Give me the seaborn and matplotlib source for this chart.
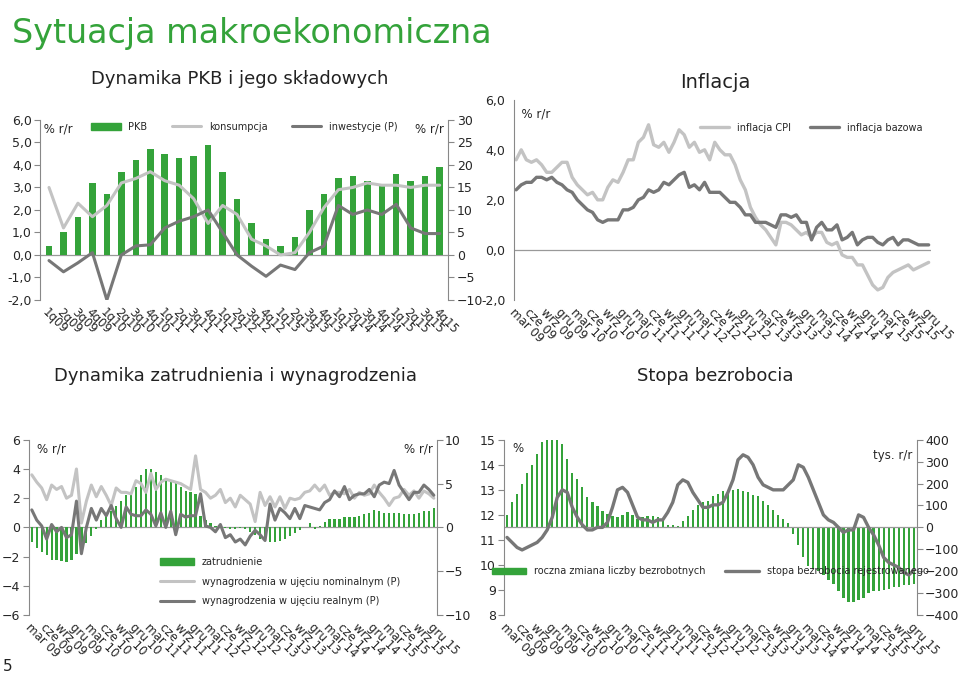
import numpy as np
import pandas as pd
import matplotlib
matplotlib.use("Agg")
import matplotlib.pyplot as plt
import seaborn as sns
from matplotlib.lines import Line2D
from matplotlib.patches import Patch

plt.rcParams["font.family"] = "Lato"
sns.set_style("white")

GREEN = "#34a33a"
LIGHT = "#c3c3c3"
DARK = "#777777"

# ---------- dane: PKB kwartalnie ----------
quarters = [f"{q}q{y:02d}" for y in range(9, 16) for q in range(1, 5)]
pkb = [0.4, 1.0, 1.7, 3.2, 2.7, 3.7, 4.2, 4.7, 4.5, 4.3, 4.4, 4.9, 3.7, 2.5,
       1.4, 0.7, 0.4, 0.8, 2.0, 2.7, 3.4, 3.5, 3.3, 3.1, 3.6, 3.3, 3.5, 3.9]
konsumpcja = [3.0, 1.2, 2.3, 1.7, 2.2, 3.2, 3.4, 3.7, 3.3, 3.1, 2.5, 1.4, 2.2, 1.8,
              0.7, 0.4, 0.0, 0.1, 1.0, 2.1, 2.9, 3.0, 3.2, 3.1, 3.1, 3.0, 3.1, 3.1]
inwestycje = [-1.25, -3.75, -1.75, 0.5, -10, 0, 2, 2.25, 6, 7.5, 8.5, 10, 5, 0,
              -2.5, -4.75, -2.25, -3.25, 0.5, 2, 11, 9, 10, 9, 11.25, 6, 4.75, 4.75]

# ---------- dane miesięczne mar 09 - gru 15 ----------
month_names = ["sty", "lut", "mar", "kwi", "maj", "cze", "lip", "sie", "wrz", "paź", "lis", "gru"]
months = [f"{month_names[m]} {y:02d}" for y in range(9, 16) for m in range(12)][2:]
tick_labels = [m if m.split()[0] in ("mar", "cze", "wrz", "gru") else "" for m in months]

cpi = [3.6, 4.0, 3.6, 3.5, 3.6, 3.4, 3.1, 3.1, 3.3, 3.5,
       3.5, 2.9, 2.6, 2.4, 2.2, 2.3, 2.0, 2.0, 2.5, 2.8, 2.7, 3.1,
       3.6, 3.6, 4.3, 4.5, 5.0, 4.2, 4.1, 4.3, 3.9, 4.3, 4.8, 4.6,
       4.1, 4.3, 3.9, 4.0, 3.6, 4.3, 4.0, 3.8, 3.8, 3.4, 2.8, 2.4,
       1.7, 1.3, 1.0, 0.8, 0.5, 0.2, 1.1, 1.1, 1.0, 0.8, 0.6, 0.7,
       0.5, 0.7, 0.7, 0.3, 0.2, 0.3, -0.2, -0.3, -0.3, -0.6, -0.6, -1.0,
       -1.4, -1.6, -1.5, -1.1, -0.9, -0.8, -0.7, -0.6, -0.8, -0.7, -0.6, -0.5]
bazowa = [2.4, 2.6, 2.7, 2.7, 2.9, 2.9, 2.8, 2.9, 2.7, 2.6,
          2.4, 2.3, 2.0, 1.8, 1.6, 1.5, 1.2, 1.1, 1.2, 1.2, 1.2, 1.6,
          1.6, 1.7, 2.0, 2.1, 2.4, 2.3, 2.4, 2.7, 2.6, 2.8, 3.0, 3.1,
          2.5, 2.6, 2.4, 2.7, 2.3, 2.3, 2.3, 2.1, 1.9, 1.9, 1.7, 1.4,
          1.4, 1.1, 1.1, 1.1, 1.0, 0.9, 1.4, 1.4, 1.3, 1.4, 1.1, 1.1,
          0.4, 0.9, 1.1, 0.8, 0.8, 1.0, 0.4, 0.5, 0.7, 0.2, 0.4, 0.5,
          0.5, 0.3, 0.2, 0.4, 0.5, 0.2, 0.4, 0.4, 0.3, 0.2, 0.2, 0.2]

zatrudnienie = [-1.0, -1.4, -1.7, -1.9, -2.2, -2.2, -2.3, -2.4, -2.2, -1.8,
                -1.5, -1.1, -0.6, -0.1, 0.5, 0.8, 1.1, 1.5, 1.8, 2.2, 2.4, 2.8,
                3.6, 4.0, 4.0, 3.8, 3.6, 3.4, 3.2, 3.1, 2.8, 2.5, 2.4, 2.3,
                0.8, 0.5, 0.3, 0.1, 0.0, -0.05, -0.1, -0.1, -0.05, -0.1, -0.3, -0.5,
                -0.8, -0.9, -1.0, -1.0, -0.9, -0.8, -0.6, -0.4, -0.2, 0.0, 0.3, -0.1,
                0.1, 0.4, 0.6, 0.6, 0.6, 0.7, 0.7, 0.7, 0.8, 0.9, 1.0, 1.2,
                1.1, 1.0, 1.0, 1.0, 1.0, 0.9, 0.9, 0.9, 1.0, 1.1, 1.1, 1.3]
wyn_nominalne = [3.6, 3.1, 2.7, 1.9, 2.9, 2.6, 2.8, 2.0, 2.2, 4.0,
                 0.3, 1.8, 2.9, 2.1, 2.8, 2.2, 1.5, 2.7, 2.4, 2.4, 2.3, 3.2,
                 3.0, 2.4, 3.7, 2.6, 3.1, 3.3, 3.2, 3.1, 3.0, 2.8, 2.6, 4.9,
                 2.6, 2.4, 2.0, 2.2, 2.6, 1.7, 2.0, 1.4, 2.2, 1.9, 1.6, 0.4,
                 2.4, 1.5, 2.1, 1.4, 2.1, 1.3, 2.0, 1.9, 2.0, 2.4, 2.5, 2.9,
                 2.5, 2.9, 2.2, 2.4, 2.4, 2.3, 2.6, 2.0, 2.4, 2.2, 2.3, 2.9,
                 2.4, 2.0, 1.5, 2.0, 2.1, 2.6, 2.2, 2.5, 2.0, 2.5, 2.3, 2.0]
wyn_realne = [1.2, 0.5, 0.1, -0.8, 0.2, -0.3, 0.0, -0.7, -0.5, 1.8,
              -1.8, 0.0, 1.3, 0.5, 1.3, 0.8, 1.5, 0.6, 0.0, 1.4, 0.9, 0.8,
              0.8, 1.2, 0.9, 0.1, 1.0, 0.0, 1.1, -0.5, 0.9, 0.7, 0.8, 0.8,
              2.3, 0.1, 0.0, -0.3, 0.2, -0.7, -0.5, -1.0, -0.8, -1.2, -0.6, -0.2,
              -0.5, -0.9, 1.6, 0.5, 1.3, 1.0, 0.6, 1.3, 0.6, 1.5, 1.4, 1.3,
              1.2, 1.7, 1.9, 2.5, 2.1, 2.8, 1.9, 2.2, 2.3, 2.3, 2.6, 2.1,
              2.9, 3.1, 3.0, 3.9, 2.9, 2.4, 1.9, 2.4, 2.4, 2.9, 2.6, 2.2]
# the wage lines are read against the left scale (-6..6)

stopa_bezrobocia = [11.1, 10.9, 10.7, 10.6, 10.7, 10.8, 10.9, 11.1, 11.4, 11.9,
                    12.7, 13.0, 12.9, 12.3, 11.9, 11.6, 11.4, 11.4, 11.5, 11.5, 11.7, 12.3,
                    13.0, 13.1, 12.9, 12.4, 11.9, 11.8, 11.8, 11.7, 11.8, 11.8, 12.1, 12.5,
                    13.2, 13.4, 13.3, 12.9, 12.6, 12.3, 12.3, 12.4, 12.4, 12.5, 12.9, 13.4,
                    14.2, 14.4, 14.3, 14.0, 13.5, 13.2, 13.1, 13.0, 13.0, 13.0, 13.2, 13.4,
                    14.0, 13.9, 13.5, 13.0, 12.5, 12.0, 11.8, 11.7, 11.5, 11.3, 11.4, 11.4,
                    12.0, 11.9, 11.5, 11.2, 10.8, 10.3, 10.1, 10.0, 9.9, 9.7, 9.6, 9.8]
zmiana_bezrobotnych = [57, 114, 154, 200, 250, 286, 337, 389, 400, 400,
                       400, 383, 314, 250, 223, 183, 137, 114, 97, 74, 63, 51,
                       46, 57, 69, 57, 40, 46, 51, 51, 46, 29, 11, 11,
                       6, 29, 51, 80, 103, 114, 120, 143, 154, 166, 171, 171,
                       177, 166, 160, 149, 143, 120, 103, 80, 57, 40, 20, -30,
                       -80, -135, -175, -190, -200, -215, -240, -260, -290, -320, -340, -340,
                       -330, -320, -300, -290, -290, -285, -280, -270, -270, -265, -265, -260]

fig = plt.figure(figsize=(9.6, 6.74), dpi=100)
fig.text(0.012, 0.975, "Sytuacja makroekonomiczna", fontsize=24, color=GREEN, va="top")
fig.text(0.095, 0.875, "Dynamika PKB i jego składowych", fontsize=13, color="#222222")
fig.text(0.745, 0.87, "Inflacja", fontsize=14, color="#222222", ha="center")
fig.text(0.245, 0.435, "Dynamika zatrudnienia i wynagrodzenia", fontsize=13, color="#222222", ha="center")
fig.text(0.745, 0.435, "Stopa bezrobocia", fontsize=13, color="#222222", ha="center")
fig.text(0.003, 0.005, "5", fontsize=11, color="#222222")

TICK_FS = 8.5


def style_axis(ax, right=False):
    for s in ["top", "right", "left", "bottom"]:
        ax.spines[s].set_visible(False)
    side = "right" if right else "left"
    ax.spines[side].set_visible(True)
    ax.spines[side].set_color("#888888")
    ax.tick_params(axis="y", length=4, color="#888888", labelsize=9, pad=2,
                   direction="out")


def x_ticks(ax, labels):
    ax.set_xticks(np.arange(len(labels)))
    ax.set_xticklabels(labels, rotation=-45, ha="left", rotation_mode="anchor", fontsize=TICK_FS)
    ax.tick_params(axis="x", length=3, color="#888888", pad=1)


def zero_line(ax):
    ax.axhline(0, color="#999999", lw=0.9, zorder=1)


# ---------- PKB ----------
ax = fig.add_axes([0.042, 0.555, 0.425, 0.267])
n = len(quarters)
x = np.arange(n)
sns.barplot(x=x, y=pkb, color=GREEN, width=0.45, linewidth=0, saturation=1, ax=ax, zorder=2)
sns.lineplot(x=x, y=konsumpcja, color=LIGHT, lw=2.2, ax=ax, zorder=3)
ax.set_ylim(-2, 6)
ax.set_xlim(-0.6, n - 0.4)
ax.set_yticks(np.arange(-2, 7, 1))
ax.set_yticklabels([f"{v:.1f}".replace(".", ",") for v in np.arange(-2, 7, 1)])
style_axis(ax)
zero_line(ax)
x_ticks(ax, quarters)
ax2 = ax.twinx()
sns.lineplot(x=x, y=inwestycje, color=DARK, lw=2.2, ax=ax2, zorder=3)
ax2.set_ylim(-10, 30)
ax2.set_yticks(np.arange(-10, 31, 5))
style_axis(ax2, right=True)
ax2.set_xlim(-0.6, n - 0.4)
ax.text(0.0, 0.985, " % r/r", transform=ax.transAxes, fontsize=8.5, va="top")
ax.text(0.99, 0.985, "% r/r", transform=ax.transAxes, fontsize=8.5, va="top", ha="right")
ax.legend(handles=[Patch(color=GREEN, label="PKB"),
                   Line2D([], [], color=LIGHT, lw=2.2, label="konsumpcja"),
                   Line2D([], [], color=DARK, lw=2.2, label="inwestycje (P)")],
          loc="upper center", bbox_to_anchor=(0.5, 1.04), ncol=3, frameon=False,
          fontsize=7, handlelength=3, columnspacing=2.5)

# ---------- Inflacja ----------
nm = len(months)
xm = np.arange(nm)
ax = fig.add_axes([0.535, 0.555, 0.435, 0.297])
sns.lineplot(x=xm, y=cpi, color=LIGHT, lw=2.4, ax=ax, label="inflacja CPI")
sns.lineplot(x=xm, y=bazowa, color=DARK, lw=2.4, ax=ax, label="inflacja bazowa")
ax.set_ylim(-2, 6)
ax.set_xlim(-0.5, nm - 0.5)
ax.set_yticks(np.arange(-2, 7, 2))
ax.set_yticklabels([f"{v:.1f}".replace(".", ",") for v in np.arange(-2, 7, 2)])
style_axis(ax)
zero_line(ax)
x_ticks(ax, tick_labels)
ax.text(0.0, 0.96, "  % r/r", transform=ax.transAxes, fontsize=8.5, va="top")
ax.legend(loc="upper right", bbox_to_anchor=(1.0, 0.93), ncol=2, frameon=False,
          fontsize=7, handlelength=3)

# ---------- Zatrudnienie i wynagrodzenia ----------
ax = fig.add_axes([0.03, 0.0875, 0.425, 0.26])
sns.barplot(x=xm, y=zatrudnienie, color=GREEN, width=0.45, linewidth=0, saturation=1, ax=ax, zorder=2)
sns.lineplot(x=xm, y=wyn_nominalne, color=LIGHT, lw=2.2, ax=ax, zorder=3)
sns.lineplot(x=xm, y=wyn_realne, color=DARK, lw=2.2, ax=ax, zorder=4)
ax.set_ylim(-6, 6)
ax.set_xlim(-0.6, nm - 0.4)
ax.set_yticks(np.arange(-6, 7, 2))
style_axis(ax)
zero_line(ax)
x_ticks(ax, tick_labels)
ax2 = ax.twinx()
ax2.set_ylim(-10, 10)
ax2.set_yticks([-10, -5, 0, 5, 10])
style_axis(ax2, right=True)
ax.text(0.02, 0.985, "% r/r", transform=ax.transAxes, fontsize=8.5, va="top")
ax.text(0.99, 0.985, "% r/r", transform=ax.transAxes, fontsize=8.5, va="top", ha="right")
ax.legend(handles=[Patch(color=GREEN, label="zatrudnienie"),
                   Line2D([], [], color=LIGHT, lw=2.2, label="wynagrodzenia w ujęciu nominalnym (P)"),
                   Line2D([], [], color=DARK, lw=2.2, label="wynagrodzenia w ujęciu realnym (P)")],
          loc="lower left", bbox_to_anchor=(0.3, 0.0), frameon=False, fontsize=7,
          handlelength=3.5, labelspacing=1.0)

# ---------- Bezrobocie ----------
ax = fig.add_axes([0.525, 0.0875, 0.43, 0.26])
ax2 = ax.twinx()
sns.barplot(x=xm, y=zmiana_bezrobotnych, color=GREEN, width=0.45, linewidth=0, saturation=1, ax=ax2, zorder=2)
ax2.set_ylim(-400, 400)
ax2.set_yticks(np.arange(-400, 401, 100))
style_axis(ax2, right=True)
ax2.set_xlim(-0.6, nm - 0.4)
ax.set_zorder(ax2.get_zorder() + 1)
ax.patch.set_visible(False)
sns.lineplot(x=xm, y=stopa_bezrobocia, color=DARK, lw=2.4, ax=ax)
ax.set_ylim(8, 15)
ax.set_xlim(-0.6, nm - 0.4)
ax.set_yticks(np.arange(8, 16, 1))
style_axis(ax)
x_ticks(ax, tick_labels)
ax2.axhline(0, color="#999999", lw=0.9)
ax.text(0.02, 0.985, "%", transform=ax.transAxes, fontsize=8.5, va="top")
ax.text(0.99, 0.95, "tys. r/r", transform=ax.transAxes, fontsize=8.5, va="top", ha="right")
ax.legend(handles=[Patch(color=GREEN, label="roczna zmiana liczby bezrobotnych"),
                   Line2D([], [], color=DARK, lw=2.4, label="stopa bezrobocia rejestrowanego")],
          loc="lower center", bbox_to_anchor=(0.5, 0.17), ncol=2, frameon=False,
          fontsize=7, handlelength=3.5, columnspacing=2)

fig.savefig("out.png", dpi=100)
